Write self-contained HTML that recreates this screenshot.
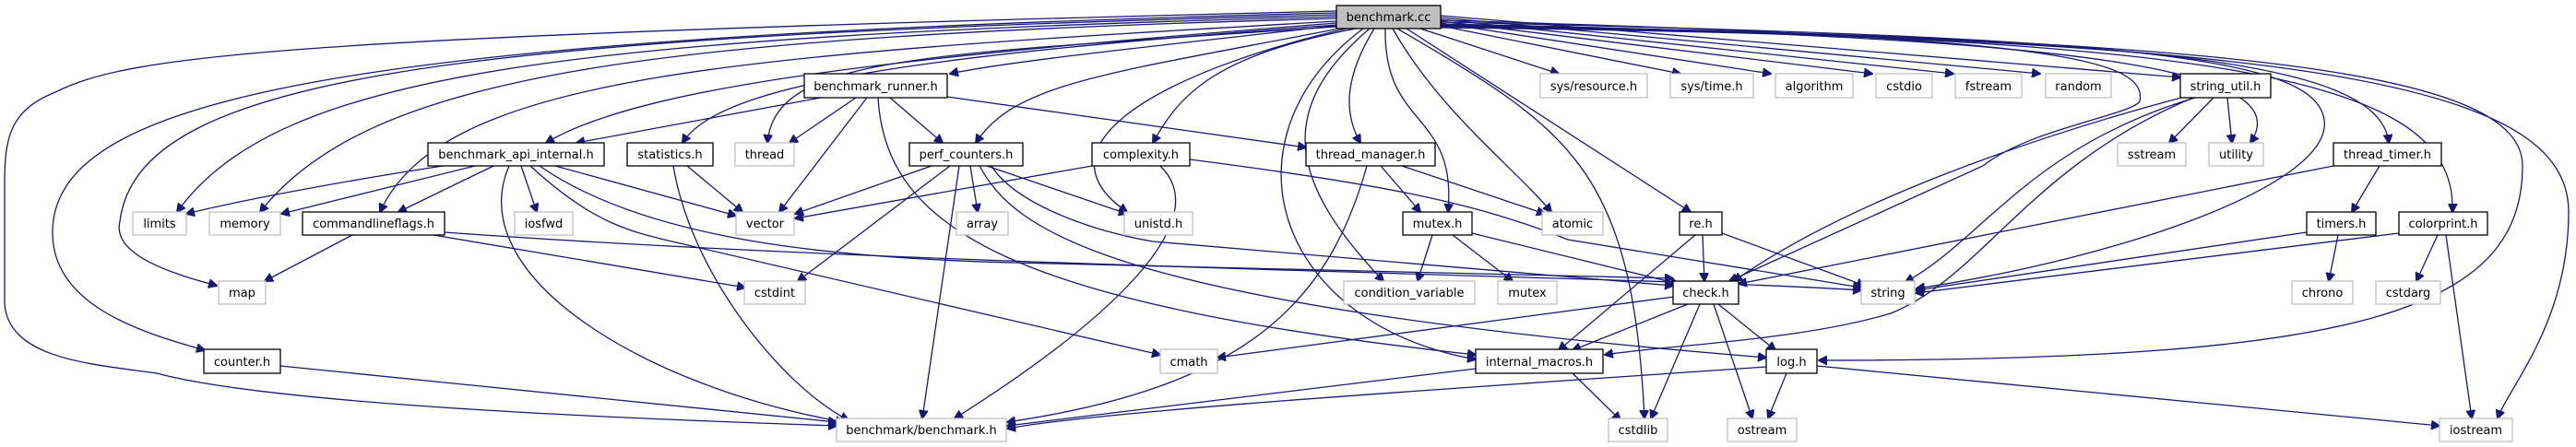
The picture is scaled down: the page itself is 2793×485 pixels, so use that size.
<!DOCTYPE html>
<html><head><meta charset="utf-8"><style>
html,body{margin:0;padding:0;background:#fff;}
svg{display:block;}
text{font-family:"DejaVu Sans","Liberation Sans",sans-serif;font-size:13px;fill:#000;}
.e{fill:none;stroke:#191970;stroke-width:1.3;}
.b{fill:#fff;stroke:#000;stroke-width:1.3;}
.g{fill:#fff;stroke:#bfbfbf;stroke-width:1.3;}
</style></head><body>
<svg width="2793" height="485" viewBox="0 0 2793 485" xmlns="http://www.w3.org/2000/svg">
<defs><marker id="a" viewBox="0 0 10 10" refX="9" refY="5" markerWidth="10" markerHeight="10" markerUnits="userSpaceOnUse" orient="auto"><path d="M0,0 L10,5 L0,10 z" fill="#191970" stroke="#191970"/></marker></defs>
<g class="e">
<path d="M1455,27 C1300,45 1100,65 1030,80" marker-end="url(#a)"/>
<path d="M1449,25 C1000,60 700,90 592,155" marker-end="url(#a)"/>
<path d="M1449,27 C1000,60 780,90 740,155" marker-end="url(#a)"/>
<path d="M1449,29 C1000,60 840,60 832,155" marker-end="url(#a)"/>
<path d="M1449,23 C800,60 480,80 412,230" marker-end="url(#a)"/>
<path d="M1449,18 C600,40 300,80 192,230" marker-end="url(#a)"/>
<path d="M1449,20 C700,40 400,80 282,230" marker-end="url(#a)"/>
<path d="M1449,16 C500,40 150,80 130,240 C120,280 200,300 235,310" marker-end="url(#a)"/>
<path d="M1449,14 C400,40 60,100 57,250 C55,330 150,360 222,380" marker-end="url(#a)"/>
<path d="M1449,12 C300,40 140,60 60,100 C10,120 5,150 5,200 L5,330 C10,390 100,395 170,405 C300,440 700,455 907,462" marker-end="url(#a)"/>
<path d="M1452,31 C1200,80 1100,90 1058,155" marker-end="url(#a)"/>
<path d="M1460,31 C1250,80 1120,160 1222,230" marker-end="url(#a)"/>
<path d="M1470,31 C1320,60 1280,100 1250,155" marker-end="url(#a)"/>
<path d="M1490,31 C1460,80 1455,120 1475,155" marker-end="url(#a)"/>
<path d="M1485,31 C1380,120 1400,200 1500,305" marker-end="url(#a)"/>
<path d="M1478,31 C1320,150 1380,350 1600,390" marker-end="url(#a)"/>
<path d="M1502,31 C1500,140 1580,120 1570,230" marker-end="url(#a)"/>
<path d="M1510,31 C1560,120 1640,180 1682,230" marker-end="url(#a)"/>
<path d="M1515,31 C1700,140 1770,180 1783,454" marker-end="url(#a)"/>
<path d="M1525,31 L1833,230" marker-end="url(#a)"/>
<path d="M1540,31 L1690,80" marker-end="url(#a)"/>
<path d="M1562,28 L1822,80" marker-end="url(#a)"/>
<path d="M1562,25 L1920,80" marker-end="url(#a)"/>
<path d="M1562,23 L2030,80" marker-end="url(#a)"/>
<path d="M1562,21 L2118,80" marker-end="url(#a)"/>
<path d="M1562,19 L2212,80" marker-end="url(#a)"/>
<path d="M1562,17 L2364,84" marker-end="url(#a)"/>
<path d="M1562,22 C2200,40 2330,60 2320,110 C2310,125 2200,140 2150,180 L1875,305" marker-end="url(#a)"/>
<path d="M1562,24 C2300,40 2510,60 2520,130 C2530,200 2300,280 2078,313" marker-end="url(#a)"/>
<path d="M1562,26 C2300,40 2490,80 2440,155" marker-end="url(#a)"/>
<path d="M1562,27 C2300,40 2580,60 2590,155" marker-end="url(#a)"/>
<path d="M1562,28 C2400,40 2665,80 2659,230" marker-end="url(#a)"/>
<path d="M1562,29 C2450,40 2735,80 2735,180 C2735,340 2550,391 1972,391" marker-end="url(#a)"/>
<path d="M1562,30 C2500,40 2785,90 2785,230 C2785,350 2720,420 2708,454" marker-end="url(#a)"/>
<!-- benchmark_runner.h -->
<path d="M890,106 L625,155" marker-end="url(#a)"/>
<path d="M928,106 L856,155" marker-end="url(#a)"/>
<path d="M940,106 L845,230" marker-end="url(#a)"/>
<path d="M965,106 L1022,155" marker-end="url(#a)"/>
<path d="M1027,105 L1416,160" marker-end="url(#a)"/>
<path d="M952,106 C960,250 1100,330 1600,385" marker-end="url(#a)"/>
<!-- benchmark_api_internal.h -->
<path d="M480,180 C350,200 250,220 202,232" marker-end="url(#a)"/>
<path d="M515,180 L305,232" marker-end="url(#a)"/>
<path d="M535,180 L432,230" marker-end="url(#a)"/>
<path d="M565,180 L582,230" marker-end="url(#a)"/>
<path d="M602,180 L798,234" marker-end="url(#a)"/>
<path d="M552,180 C500,300 700,420 915,458" marker-end="url(#a)"/>
<path d="M575,180 C640,240 680,250 720,260 L1258,385" marker-end="url(#a)"/>
<path d="M585,180 C700,260 900,280 1100,285 L1814,302" marker-end="url(#a)"/>
<path d="M482,252 C1000,290 1800,300 2018,315" marker-end="url(#a)"/>
<path d="M470,255 L808,312" marker-end="url(#a)"/>
<path d="M382,255 L287,305" marker-end="url(#a)"/>
<!-- statistics.h -->
<path d="M745,180 L805,230" marker-end="url(#a)"/>
<path d="M730,180 C750,300 850,420 920,456" marker-end="url(#a)"/>
<!-- perf_counters.h -->
<path d="M1010,180 L862,232" marker-end="url(#a)"/>
<path d="M1030,180 L865,305" marker-end="url(#a)"/>
<path d="M1040,180 L1000,454" marker-end="url(#a)"/>
<path d="M1052,180 L1060,230" marker-end="url(#a)"/>
<path d="M1070,180 L1222,232" marker-end="url(#a)"/>
<path d="M1075,180 C1100,220 1180,250 1250,262 L1814,310" marker-end="url(#a)"/>
<path d="M1062,180 C1100,250 1200,330 1915,388" marker-end="url(#a)"/>
<!-- complexity.h -->
<path d="M1184,180 L862,237" marker-end="url(#a)"/>
<path d="M1258,180 C1320,240 1200,350 1035,454" marker-end="url(#a)"/>
<path d="M1290,173 C1500,200 1600,220 1700,260 L2018,312" marker-end="url(#a)"/>
<!-- thread_manager.h -->
<path d="M1497,180 L1540,230" marker-end="url(#a)"/>
<path d="M1520,180 L1675,232" marker-end="url(#a)"/>
<path d="M1482,180 C1440,330 1350,420 1092,458" marker-end="url(#a)"/>
<!-- mutex.h -->
<path d="M1553,255 L1537,305" marker-end="url(#a)"/>
<path d="M1575,255 L1640,305" marker-end="url(#a)"/>
<path d="M1596,253 L1820,308" marker-end="url(#a)"/>
<!-- re.h -->
<path d="M1846,255 L1848,305" marker-end="url(#a)"/>
<path d="M1838,255 L1690,380" marker-end="url(#a)"/>
<path d="M1867,253 L2022,310" marker-end="url(#a)"/>
<!-- check.h -->
<path d="M1815,322 L1320,388" marker-end="url(#a)"/>
<path d="M1830,330 L1705,380" marker-end="url(#a)"/>
<path d="M1863,330 L1925,380" marker-end="url(#a)"/>
<path d="M1843,330 L1790,454" marker-end="url(#a)"/>
<path d="M1858,330 L1900,454" marker-end="url(#a)"/>
<!-- internal_macros.h -->
<path d="M1600,400 L1092,462" marker-end="url(#a)"/>
<path d="M1705,405 L1757,456" marker-end="url(#a)"/>
<!-- log.h -->
<path d="M1915,398 C1600,420 1200,445 1092,465" marker-end="url(#a)"/>
<path d="M1937,405 L1917,454" marker-end="url(#a)"/>
<path d="M1970,397 L2645,462" marker-end="url(#a)"/>
<!-- counter.h -->
<path d="M304,397 L907,458" marker-end="url(#a)"/>
<!-- string_util.h -->
<path d="M2400,106 L2352,155" marker-end="url(#a)"/>
<path d="M2415,106 L2420,155" marker-end="url(#a)"/>
<path d="M2380,106 C2200,160 2150,260 2066,306" marker-end="url(#a)"/>
<path d="M2365,106 C2200,150 2000,220 1880,305" marker-end="url(#a)"/>
<path d="M2378,106 C2200,180 2150,300 2050,340 C1950,370 1800,375 1740,385" marker-end="url(#a)"/>
<!-- thread_timer.h -->
<path d="M2530,180 L1885,308" marker-end="url(#a)"/>
<path d="M2580,180 L2550,230" marker-end="url(#a)"/>
<!-- timers.h -->
<path d="M2501,252 L2077,315" marker-end="url(#a)"/>
<path d="M2535,255 L2525,305" marker-end="url(#a)"/>
<!-- colorprint.h -->
<path d="M2601,253 L2077,318" marker-end="url(#a)"/>
<path d="M2643,255 L2620,305" marker-end="url(#a)"/>
<path d="M2652,255 L2680,454" marker-end="url(#a)"/>
</g>
<g>
<rect x="1449" y="6" width="113" height="25" fill="#bfbfbf" stroke="#000" stroke-width="1.3"/><text x="1505.5" y="23" text-anchor="middle">benchmark.cc</text>
<rect class="b" x="872" y="80" width="155" height="26"/><text x="949.5" y="98" text-anchor="middle">benchmark_runner.h</text>
<rect class="g" x="1670" y="80" width="116" height="26"/><text x="1728" y="98" text-anchor="middle">sys/resource.h</text>
<rect class="g" x="1811" y="80" width="90" height="26"/><text x="1856" y="98" text-anchor="middle">sys/time.h</text>
<rect class="g" x="1925" y="80" width="84" height="26"/><text x="1967" y="98" text-anchor="middle">algorithm</text>
<rect class="g" x="2034" y="80" width="61" height="26"/><text x="2064.5" y="98" text-anchor="middle">cstdio</text>
<rect class="g" x="2120" y="80" width="72" height="26"/><text x="2156" y="98" text-anchor="middle">fstream</text>
<rect class="g" x="2218" y="80" width="71" height="26"/><text x="2253.5" y="98" text-anchor="middle">random</text>
<rect class="b" x="2364" y="80" width="98" height="26"/><text x="2413" y="98" text-anchor="middle">string_util.h</text>

<rect class="b" x="464" y="155" width="191" height="25"/><text x="559.5" y="172" text-anchor="middle">benchmark_api_internal.h</text>
<rect class="b" x="680" y="155" width="93" height="25"/><text x="726.5" y="172" text-anchor="middle">statistics.h</text>
<rect class="g" x="797" y="155" width="64" height="25"/><text x="829" y="172" text-anchor="middle">thread</text>
<rect class="b" x="986" y="155" width="123" height="25"/><text x="1047.5" y="172" text-anchor="middle">perf_counters.h</text>
<rect class="b" x="1184" y="155" width="106" height="25"/><text x="1237" y="172" text-anchor="middle">complexity.h</text>
<rect class="b" x="1416" y="155" width="140" height="25"/><text x="1486" y="172" text-anchor="middle">thread_manager.h</text>
<rect class="g" x="2296" y="155" width="74" height="25"/><text x="2333" y="172" text-anchor="middle">sstream</text>
<rect class="g" x="2395" y="155" width="59" height="25"/><text x="2424.5" y="172" text-anchor="middle">utility</text>
<rect class="b" x="2530" y="155" width="117" height="25"/><text x="2588.5" y="172" text-anchor="middle">thread_timer.h</text>

<rect class="g" x="144" y="230" width="58" height="25"/><text x="173" y="247" text-anchor="middle">limits</text>
<rect class="g" x="227" y="230" width="77" height="25"/><text x="265.5" y="247" text-anchor="middle">memory</text>
<rect class="b" x="328" y="230" width="154" height="25"/><text x="405" y="247" text-anchor="middle">commandlineflags.h</text>
<rect class="g" x="558" y="230" width="63" height="25"/><text x="589.5" y="247" text-anchor="middle">iosfwd</text>
<rect class="g" x="798" y="230" width="63" height="25"/><text x="829.5" y="247" text-anchor="middle">vector</text>
<rect class="g" x="1037" y="230" width="56" height="25"/><text x="1065" y="247" text-anchor="middle">array</text>
<rect class="g" x="1219" y="230" width="74" height="25"/><text x="1256" y="247" text-anchor="middle">unistd.h</text>
<rect class="b" x="1521" y="230" width="75" height="25"/><text x="1558.5" y="247" text-anchor="middle">mutex.h</text>
<rect class="g" x="1672" y="230" width="66" height="25"/><text x="1705" y="247" text-anchor="middle">atomic</text>
<rect class="b" x="1821" y="230" width="46" height="25"/><text x="1844" y="247" text-anchor="middle">re.h</text>
<rect class="b" x="2501" y="230" width="75" height="25"/><text x="2538.5" y="247" text-anchor="middle">timers.h</text>
<rect class="b" x="2601" y="230" width="96" height="25"/><text x="2649" y="247" text-anchor="middle">colorprint.h</text>

<rect class="g" x="237" y="305" width="51" height="25"/><text x="262.5" y="322" text-anchor="middle">map</text>
<rect class="g" x="807" y="305" width="66" height="25"/><text x="840" y="322" text-anchor="middle">cstdint</text>
<rect class="g" x="1457" y="305" width="142" height="25"/><text x="1528" y="322" text-anchor="middle">condition_variable</text>
<rect class="g" x="1624" y="305" width="64" height="25"/><text x="1656" y="322" text-anchor="middle">mutex</text>
<rect class="b" x="1814" y="305" width="71" height="25"/><text x="1849.5" y="322" text-anchor="middle">check.h</text>
<rect class="g" x="2018" y="305" width="58" height="25"/><text x="2047" y="322" text-anchor="middle">string</text>
<rect class="g" x="2485" y="305" width="66" height="25"/><text x="2518" y="322" text-anchor="middle">chrono</text>
<rect class="g" x="2576" y="305" width="70" height="25"/><text x="2611" y="322" text-anchor="middle">cstdarg</text>

<rect class="b" x="221" y="379" width="83" height="26"/><text x="262.5" y="397" text-anchor="middle">counter.h</text>
<rect class="g" x="1258" y="379" width="62" height="26"/><text x="1289" y="397" text-anchor="middle">cmath</text>
<rect class="b" x="1600" y="379" width="138" height="26"/><text x="1669" y="397" text-anchor="middle">internal_macros.h</text>
<rect class="b" x="1915" y="379" width="55" height="26"/><text x="1942.5" y="397" text-anchor="middle">log.h</text>

<rect class="g" x="907" y="454" width="184" height="25"/><text x="999" y="471" text-anchor="middle">benchmark/benchmark.h</text>
<rect class="g" x="1744" y="454" width="64" height="25"/><text x="1776" y="471" text-anchor="middle">cstdlib</text>
<rect class="g" x="1873" y="454" width="75" height="25"/><text x="1910.5" y="471" text-anchor="middle">ostream</text>
<rect class="g" x="2645" y="454" width="79" height="25"/><text x="2684.5" y="471" text-anchor="middle">iostream</text>
</g>
</svg>
</body></html>
